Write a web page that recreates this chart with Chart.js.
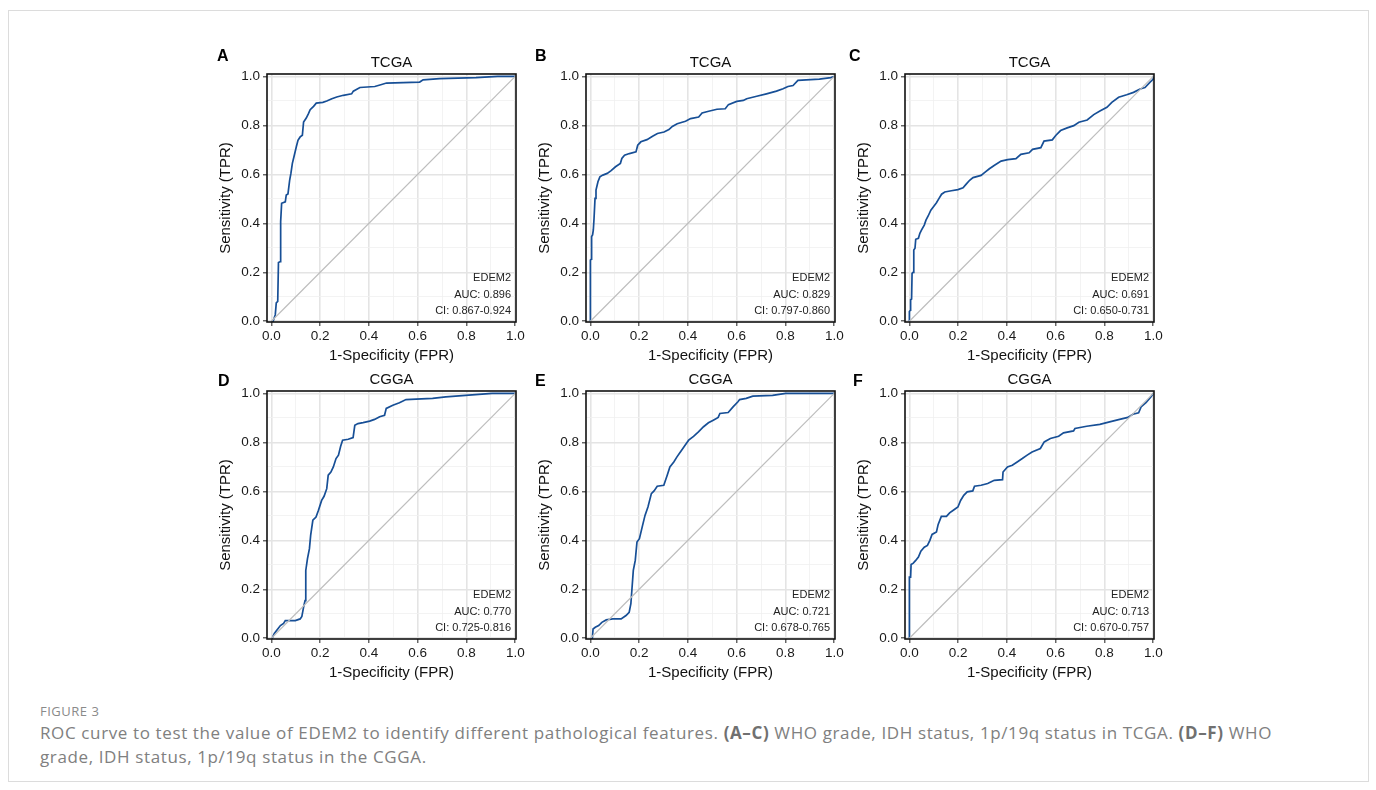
<!DOCTYPE html>
<html>
<head>
<meta charset="utf-8">
<script src="https://cdn.jsdelivr.net/npm/chart.js@4.4.1/dist/chart.umd.min.js"></script>
<style>
  html, body { margin:0; padding:0; background:#fff; }
  body { width:1376px; height:790px; position:relative; overflow:hidden; }
  #frame { position:absolute; left:8px; top:10px; width:1361px; height:772px; border:1px solid #dcdcdc; box-sizing:border-box; }
  .panel { position:absolute; }
  #caphead { position:absolute; left:40px; top:702px; font-family:"Open Sans", sans-serif; font-size:13px; color:#8a8a8a; letter-spacing:0.5px; white-space:nowrap; }
  #caption { position:absolute; left:40px; top:721px; font-family:"Open Sans", sans-serif; font-size:17px; line-height:24px; letter-spacing:0.62px; color:#808080; white-space:nowrap; }
  #caption b { color:#707070; }
</style>
</head>
<body>
<div id="frame"></div>
<div class="panel" style="left:207px;top:34px"><canvas id="cA" width="321" height="348"></canvas></div>
<div class="panel" style="left:526px;top:34px"><canvas id="cB" width="321" height="348"></canvas></div>
<div class="panel" style="left:845px;top:34px"><canvas id="cC" width="321" height="348"></canvas></div>
<div class="panel" style="left:207px;top:351px"><canvas id="cD" width="321" height="348"></canvas></div>
<div class="panel" style="left:526px;top:351px"><canvas id="cE" width="321" height="348"></canvas></div>
<div class="panel" style="left:845px;top:351px"><canvas id="cF" width="321" height="348"></canvas></div>
<div id="caphead">FIGURE 3</div>
<div id="caption">ROC curve to test the value of EDEM2 to identify different pathological features. <b>(A–C)</b> WHO grade, IDH status, 1p/19q status in TCGA. <b>(D–F)</b> WHO<br>grade, IDH status, 1p/19q status in the CGGA.</div>
<script>
// ---------- data ----------
const panelLetters = ["A", "B", "C", "D", "E", "F"];
const panelTitles = ["TCGA", "TCGA", "TCGA", "CGGA", "CGGA", "CGGA"];
const markerName = "EDEM2";
const aucValues = ["0.896", "0.829", "0.691", "0.770", "0.721", "0.713"];
const ciValues = ["0.867-0.924", "0.797-0.860", "0.650-0.731", "0.725-0.816", "0.678-0.765", "0.670-0.757"];
const majorTicks = [0.0, 0.2, 0.4, 0.6, 0.8, 1.0];
const minorTicks = [0.1, 0.3, 0.5, 0.7, 0.9];
const xAxisTitle = "1-Specificity (FPR)";
const yAxisTitle = "Sensitivity (TPR)";
const diagX = [0, 1];
const diagY = [0, 1];

const fprA = [0, 0.007, 0.016, 0.020, 0.026, 0.029, 0.037, 0.038, 0.042, 0.057, 0.061, 0.068, 0.075, 0.080, 0.086, 0.094, 0.102, 0.109, 0.118, 0.127, 0.132, 0.143, 0.152, 0.159, 0.173, 0.184, 0.211, 0.227, 0.248, 0.268, 0.295, 0.329, 0.336, 0.363, 0.424, 0.452, 0.472, 0.608, 0.622, 0.690, 0.839, 0.928, 1.0];
const tprA = [0, 0, 0.027, 0.075, 0.081, 0.240, 0.244, 0.407, 0.482, 0.488, 0.516, 0.520, 0.577, 0.604, 0.645, 0.678, 0.712, 0.739, 0.753, 0.760, 0.814, 0.830, 0.848, 0.864, 0.878, 0.891, 0.894, 0.900, 0.909, 0.916, 0.923, 0.929, 0.940, 0.955, 0.959, 0.967, 0.973, 0.977, 0.986, 0.991, 0.995, 1.0, 1.0];

const fprB = [0, 0, 0.004, 0.005, 0.009, 0.012, 0.015, 0.019, 0.023, 0.031, 0.039, 0.051, 0.069, 0.085, 0.103, 0.123, 0.129, 0.140, 0.160, 0.187, 0.194, 0.207, 0.232, 0.255, 0.275, 0.302, 0.322, 0.336, 0.356, 0.390, 0.411, 0.444, 0.458, 0.485, 0.519, 0.553, 0.566, 0.600, 0.627, 0.641, 0.682, 0.722, 0.763, 0.790, 0.810, 0.831, 0.851, 0.885, 0.939, 0.986, 1.0];
const tprB = [0, 0.250, 0.254, 0.346, 0.353, 0.373, 0.421, 0.502, 0.536, 0.570, 0.590, 0.597, 0.604, 0.615, 0.631, 0.645, 0.665, 0.678, 0.685, 0.692, 0.719, 0.733, 0.742, 0.756, 0.767, 0.773, 0.783, 0.796, 0.807, 0.817, 0.828, 0.834, 0.851, 0.858, 0.866, 0.868, 0.885, 0.898, 0.902, 0.909, 0.919, 0.929, 0.940, 0.950, 0.959, 0.963, 0.984, 0.986, 0.989, 0.995, 1.0];

const fprC = [0, 0, 0.004, 0.005, 0.009, 0.011, 0.015, 0.018, 0.023, 0.026, 0.037, 0.043, 0.050, 0.061, 0.068, 0.077, 0.088, 0.098, 0.111, 0.121, 0.132, 0.145, 0.172, 0.199, 0.220, 0.233, 0.247, 0.261, 0.294, 0.308, 0.328, 0.349, 0.376, 0.403, 0.437, 0.457, 0.491, 0.505, 0.539, 0.552, 0.586, 0.600, 0.620, 0.647, 0.674, 0.695, 0.729, 0.756, 0.783, 0.810, 0.830, 0.858, 0.891, 0.919, 0.946, 0.966, 0.986, 1.0, 1.0];
const tprC = [0, 0.040, 0.045, 0.088, 0.091, 0.196, 0.200, 0.291, 0.298, 0.335, 0.339, 0.359, 0.373, 0.393, 0.413, 0.430, 0.454, 0.467, 0.484, 0.501, 0.519, 0.528, 0.533, 0.538, 0.545, 0.560, 0.576, 0.587, 0.596, 0.607, 0.623, 0.637, 0.654, 0.660, 0.664, 0.682, 0.688, 0.702, 0.709, 0.736, 0.741, 0.759, 0.779, 0.790, 0.799, 0.813, 0.822, 0.844, 0.860, 0.874, 0.894, 0.915, 0.925, 0.935, 0.949, 0.955, 0.976, 0.989, 1.0];

const fprD = [0, 0.003, 0.012, 0.026, 0.037, 0.050, 0.057, 0.077, 0.098, 0.118, 0.125, 0.132, 0.138, 0.141, 0.148, 0.156, 0.161, 0.170, 0.183, 0.193, 0.206, 0.216, 0.227, 0.233, 0.244, 0.254, 0.265, 0.275, 0.284, 0.292, 0.315, 0.335, 0.342, 0.355, 0.376, 0.403, 0.423, 0.444, 0.464, 0.471, 0.498, 0.525, 0.552, 0.593, 0.661, 0.715, 0.796, 0.905, 1.0];
const tprD = [0, 0, 0.020, 0.038, 0.052, 0.061, 0.072, 0.072, 0.072, 0.079, 0.089, 0.127, 0.154, 0.277, 0.325, 0.366, 0.420, 0.482, 0.495, 0.523, 0.563, 0.580, 0.611, 0.666, 0.679, 0.700, 0.734, 0.748, 0.784, 0.809, 0.813, 0.820, 0.870, 0.877, 0.881, 0.887, 0.894, 0.905, 0.911, 0.939, 0.952, 0.962, 0.975, 0.977, 0.980, 0.986, 0.992, 1.0, 1.0];

const fprE = [0, 0.008, 0.011, 0.020, 0.034, 0.047, 0.065, 0.092, 0.126, 0.146, 0.159, 0.166, 0.170, 0.176, 0.184, 0.191, 0.201, 0.214, 0.224, 0.236, 0.250, 0.261, 0.274, 0.301, 0.315, 0.326, 0.342, 0.355, 0.369, 0.389, 0.403, 0.423, 0.443, 0.464, 0.484, 0.504, 0.524, 0.531, 0.565, 0.585, 0.605, 0.612, 0.639, 0.666, 0.747, 0.801, 1.0];
const tprE = [0, 0, 0.038, 0.045, 0.052, 0.065, 0.075, 0.079, 0.079, 0.093, 0.106, 0.141, 0.195, 0.277, 0.318, 0.393, 0.407, 0.461, 0.502, 0.536, 0.591, 0.602, 0.621, 0.625, 0.666, 0.700, 0.720, 0.741, 0.761, 0.789, 0.809, 0.825, 0.843, 0.864, 0.880, 0.891, 0.902, 0.918, 0.922, 0.945, 0.966, 0.975, 0.980, 0.989, 0.992, 1.0, 1.0];

const fprF = [0, 0, 0.005, 0.007, 0.016, 0.026, 0.037, 0.047, 0.061, 0.074, 0.084, 0.093, 0.111, 0.118, 0.131, 0.152, 0.165, 0.183, 0.199, 0.210, 0.223, 0.237, 0.260, 0.267, 0.294, 0.321, 0.348, 0.382, 0.384, 0.402, 0.422, 0.442, 0.463, 0.483, 0.503, 0.537, 0.553, 0.578, 0.612, 0.632, 0.673, 0.679, 0.727, 0.781, 0.821, 0.862, 0.896, 0.916, 0.940, 0.950, 0.970, 0.990, 1.0];
const tprF = [0, 0.250, 0.250, 0.301, 0.307, 0.318, 0.332, 0.356, 0.372, 0.379, 0.400, 0.424, 0.434, 0.465, 0.498, 0.498, 0.512, 0.525, 0.536, 0.563, 0.584, 0.598, 0.602, 0.621, 0.625, 0.632, 0.645, 0.648, 0.679, 0.700, 0.707, 0.720, 0.734, 0.748, 0.761, 0.775, 0.802, 0.816, 0.825, 0.839, 0.847, 0.857, 0.866, 0.874, 0.884, 0.894, 0.902, 0.915, 0.921, 0.945, 0.962, 0.986, 1.0];

const curvesX = [fprA, fprB, fprC, fprD, fprE, fprF];
const curvesY = [tprA, tprB, tprC, tprD, tprE, tprF];

// ---------- styling / layout ----------
const FONT = "'Liberation Sans', Arial, Helvetica, sans-serif";
Chart.defaults.font.family = FONT;
Chart.defaults.color = "#1a1a1a";
const canvasIds = ["cA", "cB", "cC", "cD", "cE", "cF"];
const letterOffsets = [[-50, -17], [-51, -17], [-56, -17], [-49, -9], [-51, -9], [-52, -9]];

const isMajor = v => majorTicks.some(m => Math.abs(m - v) < 1e-6);
const allTicks = majorTicks.concat(minorTicks).sort((a, b) => a - b);

const panelText = {
  id: "panelText",
  afterDraw(chart, args, opts) {
    const ctx = chart.ctx, a = chart.chartArea;
    ctx.save();
    // panel border
    ctx.strokeStyle = "#111";
    ctx.lineWidth = 1.6;
    ctx.strokeRect(a.left, a.top, a.right - a.left, a.bottom - a.top);
    // letter
    ctx.fillStyle = "#000";
    ctx.font = "bold 16px " + FONT;
    ctx.textAlign = "left";
    ctx.textBaseline = "middle";
    ctx.fillText(opts.letter, a.left + opts.dx, a.top + opts.dy);
    // title
    ctx.font = "15px " + FONT;
    ctx.textAlign = "center";
    ctx.fillStyle = "#111";
    ctx.fillText(opts.title, (a.left + a.right) / 2, a.top - 11.5);
    // annotation
    ctx.font = "11px " + FONT;
    ctx.textAlign = "right";
    ctx.fillStyle = "#222";
    ctx.fillText(markerName, a.right - 5, a.bottom - 44);
    ctx.fillText("AUC: " + opts.auc, a.right - 5, a.bottom - 27.5);
    ctx.fillText("CI: " + opts.ci, a.right - 5, a.bottom - 11);
    ctx.restore();
  }
};

function gridOpts() {
  return {
    drawTicks: true,
    tickLength: 4,
    color: c => (c.tick && isMajor(c.tick.value)) ? "#e4e4e4" : "#f0f0f0",
    lineWidth: c => (c.tick && isMajor(c.tick.value)) ? 1.6 : 0.8,
    tickColor: c => (c.tick && isMajor(c.tick.value)) ? "#333" : "rgba(0,0,0,0)",
    tickWidth: 1.1
  };
}

function makeChart(i) {
  const pts = curvesX[i].map((x, k) => ({ x: x, y: curvesY[i][k] }));
  const diag = diagX.map((x, k) => ({ x: x, y: diagY[k] }));
  new Chart(document.getElementById(canvasIds[i]), {
    type: "scatter",
    data: {
      datasets: [
        { data: diag, showLine: true, borderColor: "#bdbdbd", borderWidth: 1.2, pointRadius: 0, tension: 0 },
        { data: pts, showLine: true, borderColor: "#174f96", borderWidth: 1.7, pointRadius: 0, tension: 0 }
      ]
    },
    options: {
      responsive: false,
      animation: false,
      events: [],
      layout: { padding: { top: 40, right: 12, left: 0, bottom: 0 } },
      plugins: {
        legend: { display: false },
        tooltip: { enabled: false },
        title: { display: false },
        panelText: {
          letter: panelLetters[i], title: panelTitles[i], auc: aucValues[i], ci: ciValues[i],
          dx: letterOffsets[i][0], dy: letterOffsets[i][1]
        }
      },
      scales: {
        x: {
          type: "linear", min: -0.018, max: 1.003,
          afterBuildTicks: s => { s.ticks = allTicks.map(v => ({ value: v })); },
          afterFit: s => { s.height = 60; },
          ticks: { padding: 2, font: { size: 13.5 }, color: "#1a1a1a", autoSkip: false, maxRotation: 0,
                   callback: v => isMajor(v) ? v.toFixed(1) : "" },
          grid: gridOpts(),
          border: { display: false },
          title: { display: true, text: xAxisTitle, font: { size: 15 }, color: "#111", padding: { top: 0, bottom: 17 } }
        },
        y: {
          type: "linear", min: -0.003, max: 1.01,
          afterBuildTicks: s => { s.ticks = allTicks.map(v => ({ value: v })); },
          afterFit: s => { s.width = 60; },
          ticks: { padding: 3, font: { size: 13.5 }, color: "#1a1a1a", autoSkip: false,
                   callback: v => isMajor(v) ? v.toFixed(1) : "" },
          grid: gridOpts(),
          border: { display: false },
          title: { display: true, text: yAxisTitle, font: { size: 15 }, color: "#111", padding: { top: 9.5, bottom: 0 } }
        }
      }
    },
    plugins: [panelText]
  });
}

for (let i = 0; i < 6; i++) makeChart(i);
</script>
</body>
</html>
